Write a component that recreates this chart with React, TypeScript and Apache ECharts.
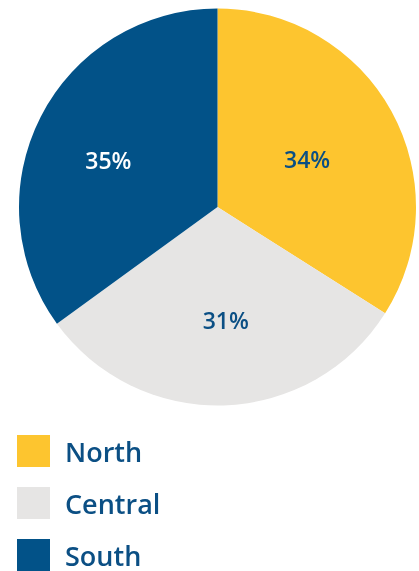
import React, { useEffect, useRef } from "react";
import * as echarts from "echarts";

const categories = ["North", "Central", "South"];
const values = [34, 31, 35];
const colors = ["#FDC52F", "#E6E5E4", "#025288"];
const labelColors = ["#0B4F84", "#0B4F84", "#FFFFFF"];

export default function App() {
  const ref = useRef<HTMLDivElement>(null);
  useEffect(() => {
    const chart = echarts.init(ref.current!, null, { renderer: "svg" });
    const labelShift = [[0, 1], [5, 11], [-18, -1]];
    chart.setOption({
      animation: false,
      legend: {
        orient: "vertical",
        left: 12,
        top: 430,
        itemWidth: 33,
        itemHeight: 32,
        itemGap: 20,
        icon: "rect",
        data: categories,
        textStyle: {
          fontFamily: "Open Sans",
          fontSize: 27,
          lineHeight: 24,
          fontWeight: 600,
          color: "#0B4F84",
          padding: [0, 0, 0, 10],
        },
      },
      series: [
        {
          type: "pie",
          center: [217.5, 207],
          radius: 198.5,
          startAngle: 90,
          clockwise: true,
          label: {
            show: true,
            position: "inside",
            formatter: "{c}%",
            fontFamily: "Open Sans",
            fontSize: 23,
            fontWeight: 600,
          },
          labelLayout: (p: any) => ({ dx: labelShift[p.dataIndex][0], dy: labelShift[p.dataIndex][1] }),
          labelLine: { show: false },
          emphasis: { disabled: true },
          data: categories.map((name, i) => ({
            name,
            value: values[i],
            itemStyle: { color: colors[i] },
            label: { color: labelColors[i] },
          })),
        },
      ],
    });
    return () => chart.dispose();
  }, []);
  return (
    <div
      ref={ref}
      style={{ position: "fixed", left: 0, top: 0, width: 419, height: 620 }}
    />
  );
}
